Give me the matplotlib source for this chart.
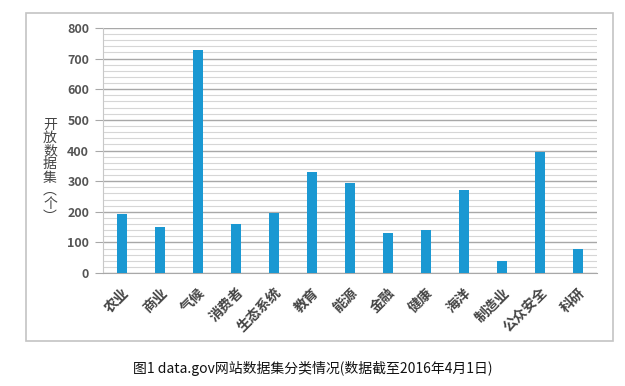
import matplotlib
matplotlib.use("Agg")
import matplotlib.pyplot as plt
from matplotlib.patches import Rectangle

plt.rcParams["font.family"] = ["Noto Sans CJK SC", "DejaVu Sans"]

categories = ["农业", "商业", "气候", "消费者", "生态系统", "教育", "能源",
              "金融", "健康", "海洋", "制造业", "公众安全", "科研"]
datasets = [193, 151, 729, 159, 195, 329, 295, 130, 140, 271, 40, 396, 78]
yticks = [0, 100, 200, 300, 400, 500, 600, 700, 800]

BLUE = "#1a98d2"

fig = plt.figure(figsize=(6.25, 3.86), dpi=100)
ax = fig.add_axes([0.1648, 0.2927, 0.7904, 0.6348])

# outer frame
fig.patches.append(Rectangle((26 / 625, 1 - 341 / 386), 587 / 625, 328 / 386,
                             transform=fig.transFigure, fill=False,
                             edgecolor="#c4c4c4", linewidth=1.2))

xs = range(len(categories))
ax.bar(xs, datasets, width=0.25, color=BLUE, zorder=3)
ax.set_xlim(-0.5, len(categories) - 0.5)
ax.set_ylim(0, 800)

ax.set_yticks(yticks)
ax.set_yticks(range(0, 801, 20), minor=True)
ax.grid(axis="y", which="major", color="#a8a8a8", linewidth=1.0, zorder=1)
ax.grid(axis="y", which="minor", color="#d6d6d6", linewidth=0.8, zorder=1)
ax.tick_params(axis="y", which="major", length=6, color="#a8a8a8",
               labelsize=9, labelcolor="#555555", pad=4)
ax.tick_params(axis="y", which="minor", length=0)
for lb in ax.get_yticklabels():
    lb.set_fontweight("bold")

ax.set_xticks(list(xs))
ax.set_xticklabels(categories, rotation=45, ha="right", va="top",
                   rotation_mode="anchor", fontsize=10, color="#444444",
                   fontweight="bold")
ax.tick_params(axis="x", length=0, pad=9)

for s in ["top", "right"]:
    ax.spines[s].set_visible(False)
ax.spines["left"].set_color("#c8c8c8")
ax.spines["bottom"].set_color("#a8a8a8")

# vertical stacked y label
fig.text(50 / 625, 1 - 171 / 386, "开\n放\n数\n据\n集\n︵\n个\n︶",
         ha="center", va="center", fontsize=10, color="#444444",
         linespacing=0.93)

fig.text(0.5, 1 - 369 / 386, "图1 data.gov网站数据集分类情况(数据截至2016年4月1日)",
         ha="center", va="center", fontsize=10, color="#111111")

fig.savefig("out.png", dpi=100)
